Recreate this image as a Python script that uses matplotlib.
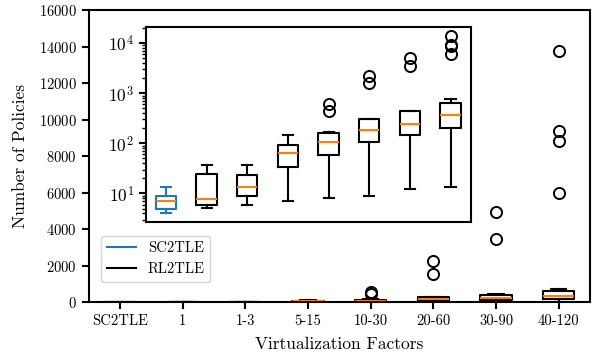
import numpy as np
import matplotlib
matplotlib.use("Agg")
import matplotlib.pyplot as plt
from matplotlib.lines import Line2D

plt.rcParams["font.family"] = "serif"
plt.rcParams["font.serif"] = ["cmr10", "DejaVu Serif"]
plt.rcParams["mathtext.fontset"] = "cm"
plt.rcParams["axes.formatter.use_mathtext"] = True
plt.rcParams["axes.unicode_minus"] = False

# box statistics per virtualization factor
categories = ["SC2TLE", "1", "1-3", "5-15", "10-30", "20-60", "30-90", "40-120"]
whislo = [4.05, 5.1, 6.0, 7.0, 8.1, 9.1, 12.4, 13.2]
q1 = [5.0, 5.85, 9.1, 34, 58, 105, 148, 204]
med = [7.0, 7.6, 13.2, 63.5, 105, 183, 248, 363]
q3 = [9.1, 24.0, 23.5, 91.5, 162, 302, 436, 630]
whishi = [13.3, 36.6, 36.6, 150, 166, 312, 450, 755]
fliers = [[], [], [], [], [440, 600], [1570, 2250], [3450, 4960],
          [6010, 8850, 9360, 13760]]

stats = []
for i, name in enumerate(categories):
    stats.append(dict(label=name, whislo=whislo[i], q1=q1[i], med=med[i],
                      q3=q3[i], whishi=whishi[i], fliers=np.array(fliers[i])))

lw = 1.5


def draw_boxes(ax):
    for i, st in enumerate(stats):
        c = "tab:blue" if i == 0 else "black"
        ax.bxp([st], positions=[i + 1], widths=0.5,
               boxprops=dict(color=c, linewidth=lw),
               whiskerprops=dict(color=c, linewidth=lw),
               capprops=dict(color=c, linewidth=lw),
               medianprops=dict(color="tab:orange", linewidth=lw),
               flierprops=dict(marker="o", markerfacecolor="none",
                               markeredgecolor="black", markersize=8,
                               markeredgewidth=1.4))


fig = plt.figure(figsize=(6.04, 3.55), dpi=100)
ax = fig.add_axes([0.1467, 0.1479, 0.8301, 0.8239])
draw_boxes(ax)
ax.set_xlim(0.5, 8.5)
ax.set_ylim(0, 16000)
ax.set_xticks(range(1, 9))
ax.set_xticklabels(categories)
ax.set_yticks(np.arange(0, 16001, 2000))
ax.tick_params(labelsize=10.5, width=lw, length=5)
for s in ax.spines.values():
    s.set_linewidth(lw)
ax.set_xlabel("Virtualization Factors", fontsize=12.5, labelpad=6)
ax.set_ylabel("Number of Policies", fontsize=12.5, labelpad=8)

handles = [Line2D([], [], color="tab:blue", linewidth=lw),
           Line2D([], [], color="black", linewidth=lw)]
ax.legend(handles, ["SC2TLE", "RL2TLE"], loc="lower left",
          bbox_to_anchor=(0.0247, 0.069), borderaxespad=0, fontsize=10.5)

# inset with log scale
axin = fig.add_axes([0.2412, 0.3746, 0.5384, 0.5485])
draw_boxes(axin)
axin.set_yscale("log")
axin.set_xlim(0.5, 8.5)
axin.set_xticks([])
axin.tick_params(axis="y", which="major", labelsize=12.5, width=lw, length=5)
axin.tick_params(axis="y", which="minor", width=1.0, length=3)
for s in axin.spines.values():
    s.set_linewidth(lw)

fig.savefig("out.png", dpi=100)
